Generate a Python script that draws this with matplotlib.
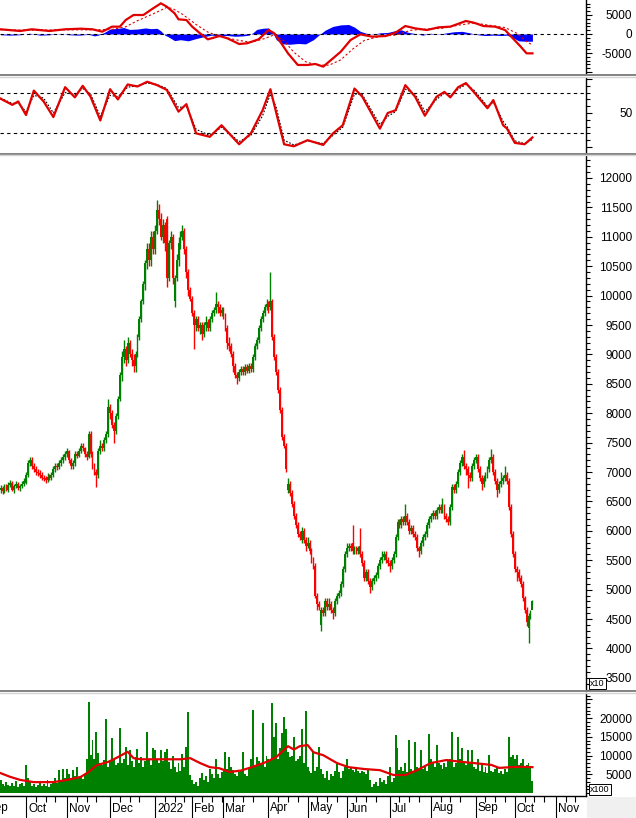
import matplotlib
matplotlib.use("Agg")
import matplotlib.pyplot as plt
import numpy as np
from matplotlib.lines import Line2D
from matplotlib.patches import Rectangle
from matplotlib.ticker import MultipleLocator

plt.rcParams['font.family'] = ['Liberation Sans', 'DejaVu Sans']
plt.rcParams['axes.unicode_minus'] = False

# ---- daily candles, price in x10 units (index 0 = mid Sep 2021) ----
open_ = [6700, 6720, 6680, 6750, 6700, 6780, 6820, 6700, 6760, 6800, 6720, 6760, 6800,
         6820, 6950, 7150, 7200, 7100, 7050, 7000, 6980, 6950, 6900, 6880, 6870,
         6920, 6900, 6950, 7050, 7100, 7080, 7150, 7200, 7250, 7300, 7350, 7200,
         7100, 7150, 7300, 7280, 7350, 7450, 7400, 7300, 7250, 7650, 7300, 7100,
         7000, 6950, 7350, 7450, 7400, 7550, 7650, 8100, 8000, 7800, 7700, 7950,
         8250, 8650, 8950, 9100, 8900, 9200, 9000, 8900, 8800, 9000, 9300, 9600,
         9900, 10200, 10550, 10800, 10600, 11000, 10800, 11100, 11450, 11300, 11000, 11200,
         11300, 10300, 10900, 11000, 9900, 10300, 10600, 10900, 11000, 11100, 10800, 10400,
         10100, 9950, 9700, 9500, 9600, 9450, 9500, 9350, 9500, 9550, 9450, 9600,
         9700, 9750, 9850, 9800, 9700, 9750, 9650, 9450, 9200, 9150, 9000, 8800,
         8650, 8600, 8700, 8750, 8700, 8780, 8720, 8800, 8750, 8950, 9150, 9250,
         9450, 9600, 9700, 9800, 9850, 9800, 9900, 9300, 8950, 8700, 8400, 8050,
         7600, 7450, 6700, 6800, 6650, 6450, 6250, 6100, 5950, 5850, 6000, 5850,
         5750, 5800, 5650, 5500, 5400, 4900, 4750, 4400, 4650, 4600, 4800, 4700,
         4750, 4650, 4600, 4800, 4900, 4950, 5100, 5350, 5600, 5700, 5750, 5800,
         5650, 5700, 5650, 5750, 5600, 5450, 5200, 5300, 5150, 5050, 5150, 5200,
         5250, 5400, 5500, 5550, 5600, 5500, 5450, 5400, 5500, 5600, 5900, 6150,
         6100, 6200, 6150, 6250, 6150, 6000, 6050, 5950, 5900, 5700, 5650, 5800,
         5900, 5950, 6100, 6200, 6250, 6300, 6250, 6350, 6400, 6350, 6400, 6250,
         6200, 6150, 6400, 6750, 6700, 6800, 7000, 7150, 7250, 7100, 7050, 6950,
         6900, 7100, 7200, 7250, 7050, 6900, 6800, 6900, 6950, 7050, 7200, 7250,
         7000, 6850, 6700, 6800, 6850, 6900, 6950, 6850, 6400, 5950, 5600, 5350,
         5300, 5200, 5100, 4850, 4650, 4350, 4550, 4650]

high = [6780, 6760, 6790, 6800, 6830, 6870, 6850, 6800, 6850, 6830, 6800, 6850, 6900,
        7000, 7200, 7250, 7250, 7150, 7100, 7050, 7030, 7000, 6950, 6930, 6980,
        6970, 7000, 7100, 7150, 7150, 7200, 7250, 7300, 7350, 7400, 7380, 7230,
        7200, 7350, 7350, 7400, 7500, 7500, 7430, 7350, 7700, 7700, 7350, 7150,
        7050, 7400, 7550, 7500, 7600, 7700, 8250, 8150, 8050, 7850, 8000, 8300,
        8700, 9050, 9250, 9150, 9300, 9250, 9100, 9000, 9050, 9350, 9650, 9950,
        10250, 10600, 10900, 10900, 11100, 11100, 11200, 11620, 11550, 11400, 11300, 11250,
        11350, 10950, 11100, 11050, 10350, 10700, 11000, 11100, 11200, 11150, 10850, 10450,
        10150, 10000, 9750, 9650, 9650, 9550, 9550, 9550, 9650, 9600, 9650, 9750,
        9800, 10060, 9900, 9850, 9800, 9800, 9700, 9500, 9300, 9200, 9050, 8850,
        8700, 8750, 8800, 8800, 8830, 8830, 8850, 8850, 9000, 9200, 9300, 9500,
        9650, 9750, 9850, 9950, 9900, 10400, 9950, 9350, 9000, 8750, 8450, 8100,
        7650, 7500, 6900, 6850, 6700, 6500, 6300, 6150, 6000, 6070, 6050, 5900,
        5900, 5850, 5700, 5550, 5450, 4950, 4800, 4700, 4700, 4850, 4850, 4850,
        4800, 4700, 4850, 4950, 5000, 5150, 5400, 5650, 5800, 5800, 5800, 6100,
        5750, 5750, 5750, 6050, 5650, 5500, 5350, 5350, 5200, 5200, 5250, 5300,
        5450, 5550, 5650, 5650, 5650, 5550, 5500, 5550, 5650, 5950, 6200, 6200,
        6250, 6250, 6450, 6300, 6200, 6100, 6100, 6000, 5950, 5750, 5850, 5950,
        6000, 6150, 6250, 6300, 6350, 6350, 6400, 6450, 6450, 6560, 6450, 6300,
        6250, 6450, 6800, 6800, 6850, 7050, 7200, 7300, 7380, 7150, 7100, 7000,
        7150, 7250, 7300, 7300, 7100, 6950, 6950, 7000, 7100, 7250, 7390, 7300,
        7050, 6900, 6850, 7000, 6950, 7100, 7000, 6900, 6450, 6000, 5650, 5400,
        5350, 5250, 5150, 4900, 4700, 4600, 4650, 4830]

low = [6650, 6630, 6650, 6670, 6660, 6750, 6680, 6650, 6720, 6690, 6680, 6720, 6770,
       6800, 6920, 7100, 7050, 7000, 6950, 6930, 6900, 6860, 6840, 6820, 6830,
       6860, 6860, 6920, 7000, 7030, 7050, 7100, 7150, 7200, 7250, 7150, 7050,
       7050, 7100, 7230, 7250, 7320, 7350, 7250, 7200, 7230, 7250, 7050, 6950,
       6750, 6900, 7300, 7350, 7350, 7500, 7600, 7900, 7750, 7500, 7650, 7900,
       8200, 8550, 8850, 8800, 8850, 8950, 8800, 8700, 8700, 8950, 9250, 9550,
       9850, 10100, 10450, 10500, 10500, 10700, 10700, 11050, 11200, 10950, 10900, 10750,
       10150, 10250, 10800, 10200, 9800, 10250, 10500, 10800, 10950, 10700, 10300, 10000,
       9900, 9650, 9100, 9400, 9400, 9350, 9250, 9300, 9400, 9400, 9400, 9550,
       9650, 9700, 9700, 9650, 9650, 9600, 9400, 9100, 9050, 8950, 8700, 8600,
       8500, 8550, 8650, 8650, 8650, 8680, 8680, 8700, 8700, 8900, 9100, 9200,
       9400, 9550, 9650, 9750, 9700, 9750, 9250, 8900, 8650, 8350, 8000, 7550,
       7400, 7000, 6650, 6600, 6400, 6200, 6050, 5900, 5850, 5800, 5800, 5650,
       5700, 5600, 5450, 5350, 4850, 4650, 4650, 4300, 4550, 4550, 4650, 4650,
       4600, 4500, 4550, 4750, 4850, 4900, 5050, 5300, 5550, 5650, 5650, 5600,
       5600, 5600, 5600, 5550, 5400, 5150, 5150, 5100, 4950, 5000, 5100, 5150,
       5200, 5350, 5450, 5500, 5450, 5400, 5300, 5350, 5450, 5550, 5850, 6050,
       6050, 6100, 6100, 6100, 5950, 5950, 5900, 5850, 5650, 5550, 5600, 5750,
       5850, 5900, 6050, 6150, 6200, 6200, 6200, 6300, 6300, 6300, 6200, 6150,
       6100, 6100, 6350, 6650, 6650, 6750, 6950, 7100, 7050, 6950, 6730, 6850,
       6850, 7050, 7150, 7000, 6850, 6700, 6750, 6850, 6900, 7000, 7150, 6950,
       6800, 6580, 6650, 6750, 6800, 6850, 6800, 6350, 5900, 5550, 5300, 5150,
       5150, 5050, 4800, 4600, 4380, 4100, 4500, 4750]

close = [6720, 6680, 6750, 6700, 6780, 6820, 6700, 6760, 6800, 6720, 6760, 6800, 6850,
         6950, 7150, 7200, 7100, 7050, 7000, 6980, 6950, 6900, 6880, 6870, 6920,
         6900, 6950, 7050, 7100, 7080, 7150, 7200, 7250, 7300, 7350, 7200, 7100,
         7150, 7300, 7280, 7350, 7450, 7400, 7300, 7250, 7650, 7300, 7100, 7000,
         6950, 7350, 7450, 7400, 7550, 7650, 8100, 8000, 7800, 7700, 7950, 8250,
         8650, 8950, 9100, 8900, 9200, 9000, 8900, 8800, 9000, 9300, 9600, 9900,
         10200, 10550, 10800, 10600, 11000, 10800, 11100, 11450, 11300, 11000, 11200, 10900,
         10300, 10900, 11000, 10300, 10300, 10600, 10900, 11000, 11100, 10800, 10400, 10100,
         9950, 9700, 9500, 9600, 9450, 9500, 9350, 9500, 9550, 9450, 9600, 9700,
         9750, 9850, 9800, 9700, 9750, 9650, 9450, 9200, 9150, 9000, 8800, 8650,
         8600, 8700, 8750, 8700, 8780, 8720, 8800, 8750, 8950, 9150, 9250, 9450,
         9600, 9700, 9800, 9850, 9800, 9900, 9300, 8950, 8700, 8400, 8050, 7600,
         7450, 7050, 6800, 6650, 6450, 6250, 6100, 5950, 5900, 6000, 5850, 5750,
         5800, 5650, 5500, 5400, 4900, 4750, 4700, 4650, 4600, 4800, 4700, 4750,
         4650, 4600, 4800, 4900, 4950, 5100, 5350, 5600, 5700, 5750, 5700, 5650,
         5700, 5650, 5700, 5600, 5450, 5200, 5300, 5150, 5050, 5150, 5200, 5250,
         5400, 5500, 5550, 5600, 5500, 5450, 5400, 5500, 5600, 5900, 6150, 6100,
         6200, 6150, 6250, 6150, 6000, 6050, 5950, 5900, 5700, 5650, 5800, 5900,
         5950, 6100, 6200, 6250, 6300, 6250, 6350, 6400, 6350, 6400, 6250, 6200,
         6150, 6400, 6750, 6700, 6800, 7000, 7150, 7250, 7100, 7050, 6950, 6900,
         7100, 7200, 7250, 7050, 6900, 6800, 6900, 6950, 7050, 7200, 7250, 7000,
         6850, 6700, 6800, 6850, 6900, 6950, 6850, 6400, 5950, 5600, 5350, 5300,
         5200, 5100, 4850, 4650, 4450, 4550, 4600, 4800]

# volume in x100 units
volume = [3500, 2500, 2000, 3000, 2200, 1800, 2600, 2000, 3200, 1500, 2400, 2800, 2000,
          7500, 4000, 3000, 2000, 2500, 1500, 2200, 2800, 1800, 2500, 2000, 3500,
          1500, 2500, 3000, 4000, 2800, 6100, 3500, 6400, 4000, 6400, 5000, 3800,
          6100, 4500, 7000, 4200, 4500, 3800, 5000, 9000, 24300, 10100, 14100, 9000,
          16300, 10700, 8000, 7500, 8800, 19800, 7000, 8500, 14700, 9000, 7500, 8000,
          17400, 8000, 9000, 12300, 7500, 11500, 8500, 7000, 9600, 11700, 8000, 9500,
          7000, 8500, 16300, 9000, 7500, 12000, 11500, 9000, 8000, 11500, 8500, 11000,
          11700, 8300, 6500, 10000, 7000, 5500, 8000, 6000, 10500, 7000, 12300, 21600,
          4800, 3500, 2500, 3000, 2000, 4000, 5300, 3500, 4500, 3000, 6500, 5000,
          4000, 9000, 5000, 4000, 5500, 6000, 10900, 6500, 9600, 7000, 6100, 5000,
          4500, 5500, 6000, 11000, 5000, 4500, 6500, 9000, 22100, 7000, 9600, 8500,
          8000, 18700, 7000, 10000, 9000, 8500, 24000, 15000, 18700, 9000, 12000, 16000,
          20300, 17000, 11000, 9600, 10000, 15000, 8500, 9000, 10000, 17000, 8000, 22000,
          7000, 6000, 5300, 11000, 6000, 7000, 12300, 6500, 5000, 4000, 6000, 3500,
          5000, 4500, 6000, 8300, 5500, 4000, 6000, 6900, 9000, 6500, 7000, 6100,
          5500, 6500, 6000, 5300, 6000, 5500, 5000, 6100, 3500, 1600, 2500, 3000,
          2000, 4000, 3000, 3500, 2500, 4500, 7000, 3000, 4000, 15500, 12000, 6100,
          7000, 6000, 8000, 5500, 14100, 6500, 6000, 13700, 7000, 6100, 11500, 6500,
          7000, 6000, 15700, 9000, 8000, 7000, 12800, 8000, 7500, 6500, 8000, 7000,
          8500, 9000, 16300, 7000, 8000, 15000, 9000, 12000, 8000, 7500, 11500, 8000,
          11500, 7000, 6500, 9000, 6000, 7500, 5500, 6900, 5300, 10100, 6000, 5500,
          6500, 7000, 5300, 6000, 5000, 6500, 5500, 14900, 9500, 10100, 9000, 10100,
          7500, 8000, 9000, 7000, 7500, 8000, 7000, 3200]

# volume moving average (read at sample points)
vma_idx = [0, 5, 10, 17, 27, 34, 41, 45, 49, 55, 59, 65, 68, 72, 82, 92, 97, 102, 107, 112,
           117, 123, 129, 136, 141, 147, 150, 153, 157, 160, 163, 165, 172, 178, 186, 194,
           201, 207, 213, 220, 228, 236, 242, 251, 255, 261, 266, 272]
vma = [5300, 4300, 3500, 2900, 2900, 3500, 4300, 5600, 7400, 8300, 9300, 11000, 9300, 9000,
       9000, 9000, 9300, 8000, 6900, 6600, 5600, 6000, 7000, 8300, 9600, 12500, 11600, 12500,
       12800, 10900, 10400, 10100, 8000, 6900, 6400, 6100, 4800, 4800, 6100, 8000, 8800, 8300,
       8000, 7500, 6700, 6900, 7000, 6900]

# MACD line, signal line, histogram
macd_idx = [0, 10, 16, 25, 33, 41, 47, 52, 57, 61, 64, 68, 73, 78, 82, 85, 89, 91, 95, 98,
            102, 106, 112, 116, 122, 126, 132, 137, 140, 143, 147, 152, 157, 161, 165, 169,
            174, 179, 184, 190, 197, 202, 207, 212, 218, 224, 230, 238, 242, 247, 253, 258,
            262, 266, 269, 272]
macd = [1240, 790, 1240, 790, 1240, 1400, 1240, 610, 1930, 1930, 3680, 5000, 5000, 6750,
        8070, 7190, 5440, 3860, 3680, 1930, 180, -1400, -530, -1140, -2630, -2450, -1400,
        1050, 180, -2020, -5090, -8150, -8150, -7890, -8590, -6840, -4650, -1580, -90, -700,
        -530, 350, 2100, 1490, 1050, 1750, 1930, 3420, 2980, 2100, 1930, 1050, -1140, -3330,
        -5090, -5090]
sig_idx = [0, 16, 33, 47, 57, 64, 70, 78, 85, 88, 93, 100, 106, 112, 120, 128, 135, 140,
           145, 150, 156, 162, 168, 174, 180, 186, 194, 202, 210, 218, 226, 234, 242, 250,
           258, 264, 269, 272]
sig = [1100, 1000, 1100, 1100, 1200, 1900, 3500, 5300, 7000, 6700, 5200, 2500, 500, -600,
       -1500, -2200, -1200, -200, -1800, -4800, -7300, -8200, -8200, -6800, -4000, -1700,
       -600, -300, 1000, 1300, 1500, 2300, 2900, 2300, 1700, 200, -2000, -2900]
hist_idx = [0, 5, 10, 15, 20, 25, 30, 35, 40, 45, 48, 50, 53, 56, 60, 63, 66, 70, 74, 77,
            80, 82, 84, 86, 89, 92, 96, 100, 104, 108, 112, 116, 120, 124, 127, 129, 131,
            134, 137, 139, 141, 144, 148, 152, 156, 160, 163, 166, 170, 174, 178, 181, 184,
            187, 190, 194, 198, 202, 205, 208, 212, 216, 220, 224, 228, 232, 236, 240, 244,
            248, 252, 256, 259, 262, 265, 268, 272]
hist = [-200, -300, -200, 200, -300, -200, 100, -200, -300, -100, -500, -300, 400, 1300,
        1500, 1700, 1200, 1300, 1600, 1400, 1500, 800, -300, -800, -1750, -1500, -1800,
        -1200, -700, -300, -500, -400, -600, -500, -300, 300, 1200, 1500, 1600, 500, -1500,
        -2600, -2700, -2500, -2600, -1500, -200, 1000, 2000, 2400, 2500, 1800, 700, 200,
        -100, 300, 400, 900, 1100, 500, 100, -300, 200, -100, 300, 600, 700, 300, -200,
        -400, -300, -400, -300, -1000, -1800, -1900, -1900]

# stochastic %K and %D
sto_idx = [0, 6, 9, 13, 17, 22, 27, 33, 38, 42, 46, 51, 56, 60, 65, 70, 75, 80, 85, 91,
           95, 100, 107, 113, 122, 128, 134, 138, 141, 145, 150, 157, 165, 170, 175, 181,
           185, 194, 198, 202, 207, 212, 217, 223, 227, 230, 234, 238, 242, 249, 252, 257,
           259, 263, 268, 272]
sto_k = [71, 62, 67, 47, 83, 67, 44, 88, 73, 90, 74, 39, 85, 70, 92, 89, 96, 91, 84, 52,
         63, 20, 15, 32, 4, 20, 54, 85, 50, 4, 1, 10, 3, 20, 32, 86, 74, 27, 50, 54, 91, 74,
         46, 74, 81, 73, 88, 94, 81, 57, 69, 32, 27, 6, 4, 14]
sto_d = [72, 64, 65, 52, 76, 72, 50, 80, 77, 86, 78, 45, 76, 74, 88, 90, 94, 92, 86, 58,
         60, 26, 17, 29, 8, 17, 46, 78, 58, 10, 3, 9, 5, 17, 29, 78, 77, 33, 45, 52, 85, 78,
         52, 70, 79, 75, 85, 92, 84, 60, 66, 38, 30, 9, 5, 11]

month_labels = ['Sep', 'Oct', 'Nov', 'Dec', '2022', 'Feb', 'Mar', 'Apr', 'May', 'Jun',
                'Jul', 'Aug', 'Sep', 'Oct', 'Nov']
month_idx = [-7.5, 13, 34, 56, 79, 98, 114, 137, 157, 177, 199, 220, 243, 263, 284]

# ---------------- layout (pixel based) ----------------
W, H = 636, 818
AX_R = 586
fig = plt.figure(figsize=(W / 100, H / 100), dpi=100)


def box(top, bottom):
    return [0, 1 - bottom / H, AX_R / W, (bottom - top) / H]


ax_macd = fig.add_axes(box(0, 73))
ax_sto = fig.add_axes(box(78, 152))
ax_px = fig.add_axes(box(155, 690))
ax_vol = fig.add_axes(box(693, 796))

RED = '#e00000'
GREEN = '#008000'
XL = (-0.3, 299.4)

for ax in (ax_macd, ax_sto, ax_px, ax_vol):
    ax.set_xlim(*XL)
    for s in ('left', 'top', 'bottom'):
        ax.spines[s].set_visible(False)
    ax.spines['right'].set_linewidth(1.0)
    ax.yaxis.tick_right()
    ax.tick_params(axis='y', which='major', length=4.3, width=0.8, direction='out',
                   labelsize=8.5, pad=29.0)
    ax.tick_params(axis='y', which='minor', length=2.6, width=0.8, direction='out')
    ax.tick_params(axis='x', which='both', bottom=False, labelbottom=False)

# ---- price panel ----
o = np.array(open_)
c = np.array(close)
hi = np.array(high)
lo = np.array(low)
idx = np.arange(len(c))
up = c >= o
cols = np.where(up, GREEN, '#ff0000')
ax_px.vlines(idx, lo, hi, colors=cols, lw=1.0)
ax_px.bar(idx, np.maximum(np.abs(c - o), 25), bottom=np.minimum(o, c), width=0.95,
          color=cols, linewidth=0)
ax_px.set_ylim(3293, 12391)
ax_px.set_yticks(np.arange(3500, 12001, 500))
ax_px.set_yticklabels([str(v) for v in range(3500, 12001, 500)])
ax_px.yaxis.set_minor_locator(MultipleLocator(100))

# ---- volume panel ----
ax_vol.bar(idx, volume, width=1.0, color=GREEN, linewidth=0, antialiased=False)
ax_vol.plot(vma_idx, vma, color=RED, lw=1.6)
ax_vol.set_ylim(-800, 26700)
ax_vol.set_yticks([5000, 10000, 15000, 20000, 25000])
ax_vol.set_yticklabels(['5000', '10000', '15000', '20000', ''])
ax_vol.yaxis.set_minor_locator(MultipleLocator(1000))
ax_vol.spines['bottom'].set_visible(True)
ax_vol.spines['bottom'].set_linewidth(1.0)
ax_vol.set_xticks([m for m in month_idx if m > 0])
ax_vol.set_xticks([m + k for m in month_idx[1:-1] for k in (5, 10, 15)]
                  + [284 + 5, 284 + 10], minor=True)
ax_vol.tick_params(axis='x', which='major', bottom=True, length=15.5, width=0.8,
                   direction='out', labelbottom=False)
ax_vol.tick_params(axis='x', which='minor', bottom=True, length=4.3, width=0.8,
                   direction='out')
for lbl, m in zip(month_labels, month_idx):
    ax_vol.annotate(lbl, xy=(m, 0), xycoords=('data', 'axes fraction'),
                    xytext=(2, -12.5), textcoords='offset pixels', ha='left',
                    va='center', fontsize=8.5, annotation_clip=False)

# ---- MACD panel ----
ax_macd.fill_between(hist_idx, hist, 0, color='#0000ff', lw=0)
ax_macd.axhline(0, color='black', lw=0.8, ls=(0, (3, 3)))
ax_macd.plot(sig_idx, sig, color=RED, lw=0.8, ls=(0, (2, 2)))
ax_macd.plot(macd_idx, macd, color=RED, lw=1.6)
ax_macd.set_ylim(-10263, 8947)
ax_macd.set_yticks([-10000, -5000, 0, 5000])
ax_macd.set_yticklabels(['', '-5000', '0', '5000'])
ax_macd.yaxis.set_minor_locator(MultipleLocator(1000))

# ---- stochastic panel ----
ax_sto.axhline(80, color='black', lw=0.8, ls=(0, (3, 3)))
ax_sto.axhline(20, color='black', lw=0.8, ls=(0, (3, 3)))
ax_sto.plot(sto_idx, sto_d, color='black', lw=0.8, ls=(0, (1.5, 1.5)))
ax_sto.plot(sto_idx, sto_k, color=RED, lw=1.6)
ax_sto.set_ylim(-7.4, 101.5)
ax_sto.set_yticks([0, 50, 100])
ax_sto.set_yticklabels(['', '50', ''])
ax_sto.yaxis.set_minor_locator(MultipleLocator(10))

for ax in (ax_macd, ax_sto, ax_px, ax_vol):
    for t in ax.get_yticklabels():
        t.set_horizontalalignment('right')

# ---- separators and decorations ----
for y in (75, 153.5, 691):
    fig.add_artist(Line2D([0, 1], [1 - y / H] * 2, transform=fig.transFigure,
                          color='#7a7a7a', lw=1.3))
    fig.add_artist(Line2D([0, 1], [1 - (y + 1.5) / H] * 2, transform=fig.transFigure,
                          color='#d4d4d4', lw=1.0))

fig.add_artist(Rectangle(((AX_R + 1) / W, 0), 1 - (AX_R + 1) / W, 21 / H,
                         transform=fig.transFigure, color='#f0f0f0', lw=0))

fig.text((AX_R + 4) / W, 1 - 683.5 / H, 'x10', fontsize=6.5, va='center', ha='left',
         bbox=dict(boxstyle='square,pad=0.15', fc='white', ec='black', lw=0.7))
fig.text((AX_R + 4) / W, 1 - 789.5 / H, 'x100', fontsize=6.5, va='center', ha='left',
         bbox=dict(boxstyle='square,pad=0.15', fc='white', ec='black', lw=0.7))

fig.savefig('out.png', dpi=100, facecolor='white')
